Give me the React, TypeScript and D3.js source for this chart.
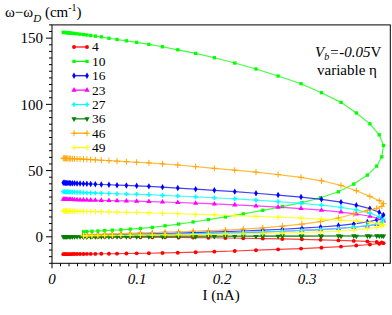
import * as d3 from 'd3';

// current values, shared by all curves: outgoing branch then return branch
const I_NA = [
  0.0133, 0.0145, 0.0158, 0.0172, 0.0187, 0.0203, 0.022, 0.024, 0.0265, 0.0295, 0.033, 0.037,
  0.041, 0.0455, 0.051, 0.058, 0.067, 0.0765, 0.0875, 0.0996, 0.114, 0.13, 0.148, 0.169, 0.191,
  0.215, 0.24, 0.266, 0.293, 0.317, 0.34, 0.358, 0.374, 0.385, 0.39,
  0.388, 0.382, 0.371, 0.355, 0.337, 0.316, 0.294, 0.271, 0.248, 0.225, 0.204, 0.184, 0.166,
  0.149, 0.133, 0.118, 0.104, 0.092, 0.081, 0.071, 0.062, 0.054, 0.047, 0.041, 0.037,
];

const SERIES = ['4', '10', '16', '23', '27', '36', '46', '49'];
const COLORS = ['#ff0000', '#00ff00', '#0000ff', '#ff00ff', '#00ffff', '#008000', '#ffa500', '#ffff00'];

const W_4 = [
  -13.1, -13.1, -13.1, -13.1, -13.1, -13.1, -13.1, -13.0, -13.0, -13.0, -13.0, -13.0, -12.9,
  -12.9, -12.9, -12.8, -12.8, -12.7, -12.6, -12.5, -12.4, -12.2, -12.0, -11.6, -11.2, -10.7,
  -10.1, -9.5, -8.9, -8.2, -7.4, -6.6, -5.8, -5.2, -4.8,
  -4.3, -3.9, -3.5, -3.1, -2.7, -2.3, -1.9, -1.6, -1.3, -1.1, -0.9, -0.7, -0.6, -0.5, -0.4,
  -0.3, -0.3, -0.2, -0.2, -0.1, -0.1, -0.1, 0.0, 0.0, 0.0,
];
const W_10 = [
  154.4, 154.3, 154.2, 154.1, 154.0, 153.9, 153.8, 153.7, 153.5, 153.3, 153.0, 152.7, 152.4,
  152.0, 151.5, 151.0, 149.9, 149.0, 148.0, 146.8, 145.3, 143.5, 141.2, 138.5, 135.2, 131.2,
  126.7, 121.4, 115.6, 108.8, 101.5, 93.5, 85.3, 77.0, 69.0,
  60.4, 53.4, 46.6, 39.8, 34.0, 29.5, 25.8, 22.8, 20.0, 17.3, 15.0, 13.0, 11.2, 9.6, 8.3, 7.1,
  6.3, 5.8, 5.3, 5.0, 4.7, 4.4, 4.2, 4.0, 3.8,
];
const W_16 = [
  40.8, 40.8, 40.7, 40.7, 40.6, 40.6, 40.5, 40.5, 40.4, 40.3, 40.2, 40.1, 40.0, 39.9, 39.7,
  39.5, 39.3, 39.0, 38.8, 38.5, 38.1, 37.5, 36.8, 36.0, 35.1, 34.1, 32.9, 31.5, 30.0, 28.3,
  26.2, 23.9, 21.3, 18.6, 16.5,
  14.3, 12.8, 11.2, 9.7, 8.5, 7.4, 6.5, 5.7, 5.0, 4.4, 3.9, 3.5, 3.1, 2.8, 2.5, 2.3, 2.1, 1.9,
  1.7, 1.5, 1.4, 1.3, 1.2, 1.1, 1.0,
];
const W_23 = [
  28.3, 28.3, 28.3, 28.2, 28.2, 28.2, 28.1, 28.1, 28.0, 28.0, 27.9, 27.9, 27.8, 27.7, 27.6,
  27.5, 27.4, 27.2, 27.1, 26.9, 26.6, 26.3, 25.9, 25.4, 24.8, 24.1, 23.3, 22.4, 21.3, 20.1,
  18.7, 17.2, 15.5, 13.7, 12.0,
  10.5, 9.3, 8.2, 7.2, 6.3, 5.5, 4.8, 4.2, 3.6, 3.2, 2.8, 2.5, 2.2, 2.0, 1.8, 1.6, 1.4, 1.3,
  1.2, 1.1, 1.0, 0.9, 0.8, 0.8, 0.7,
];
const W_27 = [
  34.0, 34.0, 33.9, 33.9, 33.9, 33.8, 33.8, 33.7, 33.7, 33.6, 33.5, 33.4, 33.3, 33.2, 33.1,
  32.9, 32.7, 32.5, 32.3, 32.1, 31.8, 31.3, 30.8, 30.2, 29.5, 28.7, 27.7, 26.6, 25.3, 23.9,
  22.2, 20.3, 17.9, 15.2, 13.0,
  11.0, 9.6, 8.4, 7.3, 6.3, 5.5, 4.8, 4.2, 3.7, 3.3, 2.9, 2.6, 2.3, 2.1, 1.9, 1.7, 1.6, 1.4,
  1.3, 1.2, 1.1, 1.0, 0.9, 0.8, 0.8,
];
const W_36 = [
  0.0, 0.0, 0.0, 0.0, 0.0, 0.0, 0.0, 0.0, 0.0, 0.0, 0.0, 0.0, 0.0, 0.0, 0.0, 0.0, 0.0, 0.0,
  0.0, 0.0, 0.05, 0.1, 0.1, 0.15, 0.2, 0.25, 0.3, 0.35, 0.4, 0.45, 0.5, 0.5, 0.55, 0.6, 0.6,
  0.65, 0.7, 0.7, 0.7, 0.7, 0.7, 0.7, 0.7, 0.65, 0.6, 0.6, 0.55, 0.5, 0.5, 0.45, 0.4, 0.4,
  0.35, 0.3, 0.3, 0.25, 0.2, 0.2, 0.15, 0.1,
];
const W_46 = [
  59.3, 59.3, 59.2, 59.2, 59.1, 59.1, 59.0, 59.0, 58.9, 58.8, 58.7, 58.6, 58.5, 58.3, 58.1,
  57.8, 57.5, 57.1, 56.7, 56.3, 55.8, 55.1, 54.2, 53.0, 51.7, 50.3, 48.8, 47.0, 44.9, 42.3,
  38.8, 34.8, 30.5, 27.3, 25.0,
  23.0, 21.5, 19.8, 17.2, 14.2, 11.5, 9.6, 8.0, 6.7, 5.8, 5.1, 4.6, 4.2, 3.8, 3.5, 3.2, 3.0,
  2.7, 2.4, 2.2, 2.0, 1.8, 1.6, 1.4, 1.3,
];
const W_49 = [
  19.5, 19.5, 19.5, 19.4, 19.4, 19.4, 19.4, 19.3, 19.3, 19.3, 19.2, 19.2, 19.1, 19.1, 19.0,
  18.9, 18.8, 18.7, 18.5, 18.4, 18.1, 17.8, 17.4, 17.0, 16.5, 16.0, 15.4, 14.8, 14.1, 13.4,
  12.6, 11.8, 10.9, 10.0, 9.2,
  8.2, 7.2, 6.2, 5.2, 4.4, 3.8, 3.3, 2.9, 2.6, 2.3, 2.1, 1.9, 1.7, 1.5, 1.4, 1.3, 1.2, 1.1,
  1.0, 0.9, 0.9, 0.8, 0.8, 0.7, 0.7,
];
const VALUES = [W_4, W_10, W_16, W_23, W_27, W_36, W_46, W_49];

const X_TICKS = [0, 0.1, 0.2, 0.3];
const X_TICK_LABELS = ['0', '0.1', '0.2', '0.3'];
const Y_TICKS = [0, 50, 100, 150];

const FONT = "'Liberation Serif', 'Times New Roman', 'DejaVu Serif', serif";

type Mark = { type: d3.SymbolType; size: number; filled: boolean; rotate?: number };
const MARKS: Mark[] = [
  { type: d3.symbolCircle, size: 12, filled: true },
  { type: d3.symbolSquare, size: 11, filled: true },
  { type: d3.symbolDiamond, size: 12, filled: true },
  { type: d3.symbolTriangle, size: 12, filled: true },
  { type: d3.symbolCross, size: 12, filled: true },
  { type: d3.symbolTriangle, size: 12, filled: true, rotate: 180 },
  { type: d3.symbolPlus, size: 14, filled: false },
  { type: d3.symbolPlus, size: 12, filled: false },
];

function Marker({ x, y, i }: { x: number; y: number; i: number }) {
  const m = MARKS[i];
  const d = d3.symbol(m.type, m.size)() ?? '';
  return (
    <path
      d={d}
      transform={`translate(${x},${y})${m.rotate ? ` rotate(${m.rotate})` : ''}`}
      fill={m.filled ? COLORS[i] : 'none'}
      stroke={m.filled ? 'none' : COLORS[i]}
      strokeWidth={1}
    />
  );
}

export default function App() {
  const width = 392;
  const height = 315;
  const left = 52;
  const right = 390.3;
  const top = 24.9;
  const bottom = 263.3;

  const x = d3.scaleLinear().domain([0, 0.398]).range([left, right]);
  const y = d3.scaleLinear().domain([-20, 160]).range([bottom, top]);

  const line = d3
    .line<number>()
    .x((_, k) => x(I_NA[k]))
    .y((v) => y(v));

  const xMinor = d3.range(0, 40).map((k) => k / 100);
  const yMinor = d3.range(-20, 161, 5);

  return (
    <svg
      width={width}
      height={height}
      style={{ position: 'absolute', left: 0, top: 0, background: '#fff', fontFamily: FONT }}
    >
      {/* frame */}
      <rect x={left} y={top} width={right - left} height={bottom - top} fill="none" stroke="#000" strokeWidth={1} />

      {/* y ticks */}
      {yMinor.map((t) => (
        <line key={`ym${t}`} x1={left - (t % 50 === 0 ? 6 : 3)} x2={left} y1={y(t)} y2={y(t)} stroke="#000" />
      ))}
      {Y_TICKS.map((t) => (
        <text key={`yl${t}`} x={43} y={y(t)} dy="0.35em" textAnchor="end" fontSize={15}>
          {t}
        </text>
      ))}

      {/* x ticks */}
      {xMinor.map((t, k) => (
        <line key={`xm${k}`} x1={x(t)} x2={x(t)} y1={bottom} y2={bottom + (k % 10 === 0 ? 5 : 3)} stroke="#000" />
      ))}
      {X_TICKS.map((t, k) => (
        <text key={`xl${k}`} x={x(t)} y={284} textAnchor="middle" fontSize={15} fontStyle="italic">
          {X_TICK_LABELS[k]}
        </text>
      ))}

      {/* series */}
      {VALUES.map((vals, i) => (
        <g key={SERIES[i]}>
          <path d={line(vals) ?? ''} fill="none" stroke={COLORS[i]} strokeWidth={1.2} strokeOpacity={0.75} />
          {vals.map((v, k) => (
            <Marker key={k} x={x(I_NA[k])} y={y(v)} i={i} />
          ))}
        </g>
      ))}

      {/* legend */}
      {SERIES.map((s, i) => {
        const ly = 47 + i * 14.37;
        return (
          <g key={`lg${s}`}>
            <line x1={73} x2={88} y1={ly} y2={ly} stroke={COLORS[i]} strokeWidth={1.2} />
            <Marker x={74} y={ly} i={i} />
            <Marker x={87} y={ly} i={i} />
            <text x={92} y={ly} dy="0.33em" fontSize={13.5}>
              {s}
            </text>
          </g>
        );
      })}

      {/* annotations */}
      <text x={315} y={57} fontSize={15}>
        <tspan fontStyle="italic">V</tspan>
        <tspan fontStyle="italic" fontSize={10} dy={2.5}>b</tspan>
        <tspan fontStyle="italic" dy={-2.5}>=-0.05</tspan>
        <tspan>V</tspan>
      </text>
      <text x={317} y={75} fontSize={15}>
        variable η
      </text>

      {/* axis titles */}
      <text x={5} y={17} fontSize={15}>
        <tspan>ω−ω</tspan>
        <tspan fontStyle="italic" fontSize={11} dy={5}>D</tspan>
        <tspan dy={-5}> (cm</tspan>
        <tspan fontSize={10} dy={-6}>-1</tspan>
        <tspan dy={6}>)</tspan>
      </text>
      <text x={(left + right) / 2} y={300} textAnchor="middle" fontSize={15}>
        I (nA)
      </text>
    </svg>
  );
}
